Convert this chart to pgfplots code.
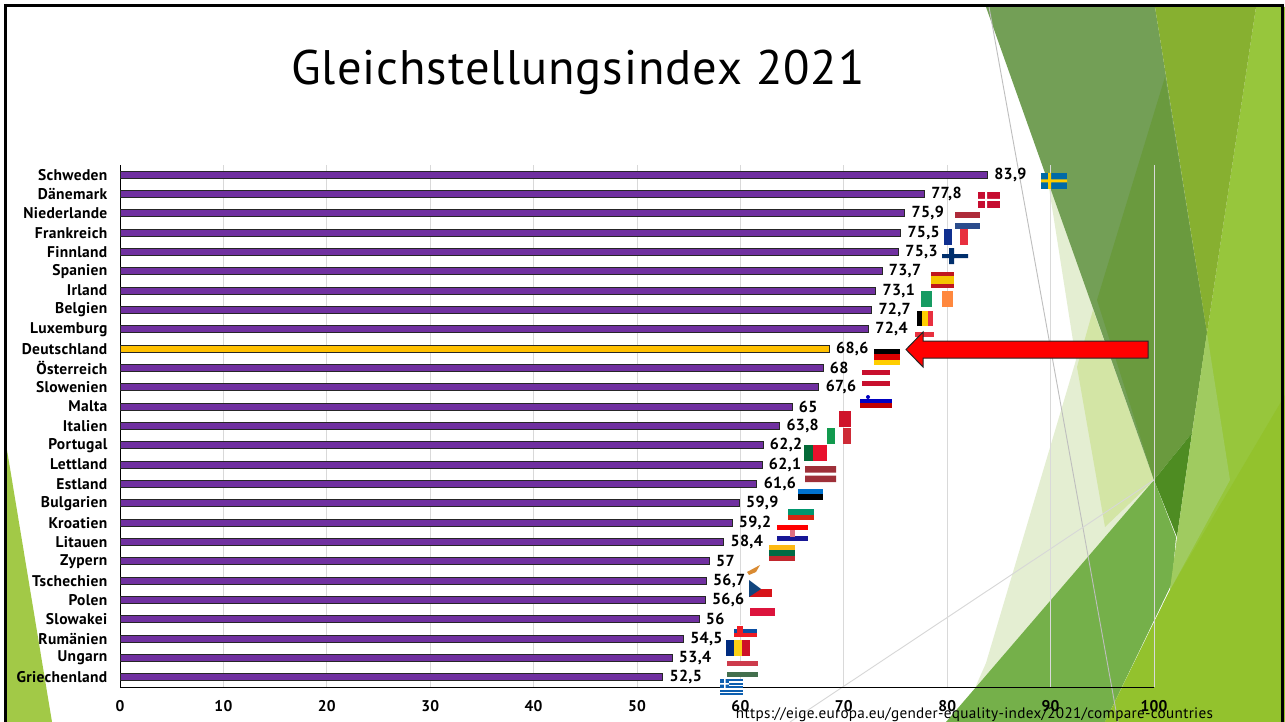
\documentclass[border=0pt]{standalone}
\usepackage{pgfplots}
\pgfplotsset{compat=1.18}
\usepackage{fontspec}
\setmainfont{PT Sans}[LetterSpace=2]
\newfontfamily\titlefont{PT Sans}[LetterSpace=2]
\definecolor{barp}{HTML}{7030A0}
\definecolor{bary}{HTML}{FFC000}
\definecolor{lgrn}{HTML}{A2C947}
\definecolor{lineA}{HTML}{BEBEBE}
\definecolor{lineB}{HTML}{D7D7D7}
\definecolor{gridc}{HTML}{D9D9D9}
\definecolor{swb}{HTML}{006AA7}
\definecolor{swy}{HTML}{FECC00}
\definecolor{dkr}{HTML}{C60C30}
\definecolor{fib}{HTML}{002F6C}
\definecolor{lvr}{HTML}{9E3039}
\definecolor{plr}{HTML}{DC143C}
\definecolor{nlr}{HTML}{AE2B3A}\definecolor{nlb}{HTML}{2B4C8C}
\definecolor{frb}{HTML}{0F2F8F}\definecolor{frr}{HTML}{E8303F}
\definecolor{esr}{HTML}{C0161E}\definecolor{esy}{HTML}{F5C400}
\definecolor{ieg}{HTML}{169B62}\definecolor{ieo}{HTML}{FF883E}
\definecolor{deR}{HTML}{DD0000}\definecolor{deY}{HTML}{FFCE00}
\definecolor{atr}{HTML}{C8102E}
\definecolor{sib}{HTML}{0000C0}\definecolor{sir}{HTML}{C00000}
\definecolor{itg}{HTML}{129A4E}\definecolor{itr}{HTML}{CE2B37}
\definecolor{mtr}{HTML}{CF142B}
\definecolor{ptg}{HTML}{046A38}\definecolor{ptr}{HTML}{E8112D}
\definecolor{eeb}{HTML}{0072CE}
\definecolor{bgg}{HTML}{00966E}\definecolor{bgr}{HTML}{D62612}
\definecolor{hrb}{HTML}{171796}
\definecolor{ltg}{HTML}{006A44}\definecolor{lty}{HTML}{FDB913}\definecolor{ltr}{HTML}{C1272D}
\definecolor{czb}{HTML}{11457E}\definecolor{czr}{HTML}{D7141A}
\definecolor{skb}{HTML}{0B4EA2}\definecolor{skr}{HTML}{EE1C25}
\definecolor{rob}{HTML}{002B7F}\definecolor{roy}{HTML}{FCD116}\definecolor{ror}{HTML}{CE1126}
\definecolor{hur}{HTML}{CD3B4C}\definecolor{hug}{HTML}{436F4D}
\definecolor{grb}{HTML}{0D5EAF}
\definecolor{cyo}{HTML}{D98B33}
\definecolor{pale}{HTML}{E4EED2}\definecolor{paleb}{HTML}{D3E5A5}
\definecolor{med}{HTML}{75B04A}\definecolor{dka}{HTML}{739F56}
\definecolor{dkb}{HTML}{6A9A3E}\definecolor{dkc}{HTML}{4E8C22}
\definecolor{oli}{HTML}{87B030}\definecolor{bri}{HTML}{97C63C}\definecolor{brib}{HTML}{93C22D}\definecolor{lig}{HTML}{A0CB60}
\newcommand{\poly}[2]{\fill[#1] #2 -- cycle;}
\newcommand{\hflag}[7]{\pgfmathsetmacro\ha{#3+(#4-#3)/3}\pgfmathsetmacro\hb{#3+2*(#4-#3)/3}
  \fill[#5] (#1,#3) rectangle (#2,\ha);\fill[#6] (#1,\ha) rectangle (#2,\hb);\fill[#7] (#1,\hb) rectangle (#2,#4);}
\newcommand{\vflag}[7]{\pgfmathsetmacro\ha{#1+(#2-#1)/3}\pgfmathsetmacro\hb{#1+2*(#2-#1)/3}
  \fill[#5] (#1,#3) rectangle (\ha,#4);\fill[#6] (\ha,#3) rectangle (\hb,#4);\fill[#7] (\hb,#3) rectangle (#2,#4);}
\begin{document}
\begin{tikzpicture}[x=1pt,y=-1pt]
\useasboundingbox (0,0) rectangle (1285,722);
\begin{scope}
\clip (0,0) rectangle (1285,722);
\poly{white}{(0,0) -- (1285,0) -- (1285,722) -- (0,722)}
\poly{lgrn}{(7,450) -- (52,722) -- (5,722)}
\poly{pale}{(1047,175) -- (1154,480) -- (960,722) -- (986,663) -- (1076,360)}
\poly{paleb}{(1093,310) -- (1154,480) -- (1105,527) -- (1077,367)}
\poly{med}{(1154,480) -- (946,722) -- (1105,722) -- (1172,583) -- (1176,537)}
\poly{dka}{(986,7) -- (1155,7) -- (1207,333) -- (1154,480)}
\poly{dkb}{(1165,77) -- (1097,300) -- (1154,480) -- (1192,433) -- (1207,333)}
\poly{dkc}{(1154,480) -- (1192,433) -- (1177,537)}
\poly{bri}{(1256,7) -- (1285,7) -- (1285,722) -- (1105,722) -- (1170,590) -- (1207,333)}
\poly{brib}{(1105,722) -- (1170,590) -- (1285,395) -- (1285,722)}
\poly{oli}{(1155,7) -- (1256,7) -- (1207,333)}
\poly{lig}{(1207,333) -- (1230,480) -- (1170,590) -- (1177,537) -- (1192,433)}
\draw[lineA,line width=0.9] (989,7) -- (1118,722);
\draw[lineB,line width=0.9] (1154,480) -- (790,722);
\draw[black,line width=3] (4.5,5.5) -- (1282.5,5.5);
\draw[black,line width=2.5] (5.5,4) -- (5.5,730) (1282.5,4) -- (1282.5,730);
\end{scope}
\node[font=\fontsize{48.5}{54}\titlefont,anchor=center] at (578,72) {Gleichstellungsindex 2021};
\begin{axis}[
  at={(120pt,-687pt)},anchor=south west,
  width=1034pt,height=522pt,scale only axis,
  xmin=0,xmax=100,ymin=0.5,ymax=27.5,y dir=reverse,
  xbar,bar width=7pt,bar shift=0pt,
  axis lines=left,axis line style={-,black,line width=1pt},
  xtick={0,10,...,100},
  ytick={1,...,27},
  yticklabels={Schweden,Dänemark,Niederlande,Frankreich,Finnland,Spanien,Irland,Belgien,Luxemburg,Deutschland,Österreich,Slowenien,Malta,Italien,Portugal,Lettland,Estland,Bulgarien,Kroatien,Litauen,Zypern,Tschechien,Polen,Slowakei,Rumänien,Ungarn,Griechenland},
  tick style={draw=none},
  xmajorgrids,grid style={gridc,line width=0.9pt},
  tick label style={font=\fontsize{15.5}{17}\selectfont\bfseries},
  /pgf/number format/assume math mode=true,
  /pgf/number format/use comma,
  /pgf/number format/1000 sep={},
  xticklabel style={yshift=-8pt},
  yticklabel style={xshift=-7pt},
  nodes near coords,
  nodes near coords style={font=\fontsize{16}{18}\selectfont\bfseries,/pgf/number format/precision=1,xshift=3pt},
]
\addplot[draw=black!85,line width=1pt,fill=barp] coordinates {
(83.9,1)(77.8,2)(75.9,3)(75.5,4)(75.3,5)(73.7,6)(73.1,7)(72.7,8)(72.4,9)
(68,11)(67.6,12)(65,13)(63.8,14)(62.2,15)(62.1,16)(61.6,17)(59.9,18)(59.2,19)(58.4,20)(57,21)(56.7,22)(56.6,23)(56,24)(54.5,25)(53.4,26)(52.5,27)};
\addplot[draw=black!85,line width=1pt,fill=bary] coordinates {(68.6,10)};
\end{axis}
% flags
\fill[swb] (1041,173) rectangle (1067,189);
\fill[swy] (1041,179.5) rectangle (1067,182.5) (1048,173) rectangle (1051,189);
\fill[dkr] (978,192) rectangle (1000,208);
\fill[white] (978,199) rectangle (1000,201) (985,192) rectangle (987,208);
\hflag{955}{980}{212}{229}{nlr}{white}{nlb}
\vflag{944}{968}{229}{245}{frb}{white}{frr}
\fill[fib] (942,254) rectangle (968,258) (949,248) rectangle (954,264);
\fill[esr] (931,272) rectangle (954,288);\fill[esy] (931,276) rectangle (954,284);
\vflag{921}{953}{291}{307}{ieg}{white}{ieo}
\vflag{917}{933}{311}{326}{black}{deY}{frr}
\fill[frr] (915,332) rectangle (934,337);
\hflag{874}{900}{349}{365}{black}{deR}{deY}
\hflag{862}{890}{370}{386}{atr}{white}{atr}
\hflag{860}{892}{394}{408}{white}{sib}{sir}
\fill[sib] (868,397) circle (2);
\fill[mtr] (839,411) rectangle (851,427);
\vflag{827}{851}{428}{444}{itg}{white}{itr}
\fill[ptr] (804,445) rectangle (827,461);\fill[ptg] (804,445) rectangle (813,461);
\fill[lvr] (805,466) rectangle (836,472.5) (805,475.5) rectangle (836,482);
\hflag{798}{823}{489}{505}{eeb}{black}{white}
\hflag{788}{814}{504}{520}{white}{bgg}{bgr}
\hflag{777}{808}{525}{541}{red}{white}{hrb}
\fill[atr!60] (790,530) rectangle (795,537);
\hflag{769}{795}{545}{561}{lty}{ltg}{ltr}
\fill[cyo] (747,572) -- (760,565) -- (756,572) -- (749,575) -- cycle;
\fill[czr] (749,589) rectangle (772,597);
\fill[czb] (749,580) -- (761,589) -- (749,597) -- cycle;
\fill[plr] (750,608) rectangle (775,616);
\hflag{734}{757}{625}{637}{white}{skb}{skr}
\fill[skr] (737,626) rectangle (743,634);
\vflag{726}{750}{640}{656}{rob}{roy}{ror}
\hflag{727}{758}{661}{677}{hur}{white}{hug}
\fill[grb] (720,679) rectangle (743,695);
\foreach \yy in {681,684.5,688,691.5}{\fill[white] (720,\yy) rectangle (743,\yy+1.7);}
\fill[grb] (720,679) rectangle (729,688);
\fill[white] (720,683) rectangle (729,684.5) (724,679) rectangle (725.5,688);
% arrow
\draw[fill=red,draw=black!85,line width=1] (1148,341) -- (923,341) -- (923,332) -- (906,349.5) -- (923,367) -- (923,358) -- (1148,358) -- cycle;
% source
\node[font=\fontsize{15.2}{17}\selectfont,anchor=center] at (974.5,715) {https://eige.europa.eu/gender-equality-index/2021/compare-countries};
\end{tikzpicture}
\end{document}
